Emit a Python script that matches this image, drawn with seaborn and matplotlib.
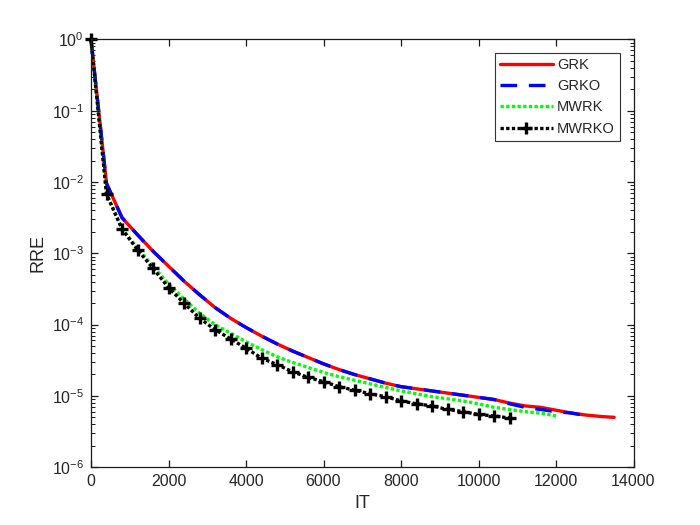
import numpy as np
import pandas as pd
import matplotlib
matplotlib.use("Agg")
import matplotlib.pyplot as plt
from matplotlib.ticker import LogLocator, NullFormatter
import seaborn as sns

grk_it = np.arange(0, 13201, 400).tolist() + [13500]
grk_log = [0, -2.02, -2.50, -2.74, -2.97, -3.18, -3.39, -3.58, -3.76, -3.91,
           -4.04, -4.16, -4.27, -4.37, -4.46, -4.55, -4.63, -4.70, -4.76, -4.82,
           -4.87, -4.90, -4.93, -4.96, -4.99, -5.02, -5.05, -5.10, -5.14, -5.16,
           -5.20, -5.24, -5.27, -5.29, -5.30]

grko_it = np.arange(0, 12801, 400).tolist()
grko_log = [0, -2.02, -2.50, -2.74, -2.97, -3.18, -3.39, -3.58, -3.76, -3.91,
            -4.04, -4.16, -4.27, -4.37, -4.46, -4.55, -4.63, -4.70, -4.76, -4.82,
            -4.87, -4.90, -4.93, -4.96, -4.99, -5.02, -5.05, -5.11, -5.16, -5.19,
            -5.22, -5.24, -5.28]

mwrk_it = np.arange(0, 12001, 400).tolist()
mwrk_log = [0, -2.17, -2.65, -2.93, -3.18, -3.43, -3.64, -3.84, -4.00, -4.12,
            -4.24, -4.35, -4.45, -4.53, -4.60, -4.67, -4.73, -4.78, -4.83, -4.88,
            -4.93, -4.97, -5.01, -5.04, -5.07, -5.11, -5.16, -5.19, -5.22, -5.24,
            -5.28]

mwrko_it = np.arange(0, 10801, 400).tolist()
mwrko_log = [0, -2.17, -2.66, -2.95, -3.21, -3.48, -3.70, -3.91, -4.07, -4.20,
             -4.33, -4.47, -4.56, -4.66, -4.74, -4.80, -4.87, -4.92, -4.97, -5.01,
             -5.07, -5.11, -5.14, -5.19, -5.22, -5.26, -5.28, -5.31]

sns.set_style("white")
plt.rcParams['font.family'] = ['Liberation Sans', 'DejaVu Sans']
plt.rcParams['mathtext.fontset'] = 'custom'
plt.rcParams['mathtext.rm'] = 'Liberation Sans'

fig, ax = plt.subplots(figsize=(7, 5.25), dpi=100)
fig.subplots_adjust(left=0.13, right=0.905, bottom=0.11, top=0.925)

series = [
    ("GRK", grk_it, grk_log, (1, 0, 0), '-'),
    ("GRKO", grko_it, grko_log, (0, 0, 1), (0, (5, 3.5))),
    ("MWRK", mwrk_it, mwrk_log, (0, 1, 0), (0, (1, 0.7))),
    ("MWRKO", mwrko_it, mwrko_log, (0, 0, 0), (0, (1, 0.7))),
]

for name, it, lg, col, ls in series:
    df = pd.DataFrame({"IT": it, "RRE": 10 ** np.array(lg)})
    sns.lineplot(data=df, x="IT", y="RRE", ax=ax, label=name, linewidth=2.4,
                 color=col, linestyle=ls)
    line = ax.lines[-1]
    line.set_clip_on(False)
    if name == "MWRKO":
        line.set_marker('+')
        line.set_markersize(9)
        line.set_markeredgewidth(2.4)
        line.set_markeredgecolor('black')

ax.set_yscale('log')
ax.set_xlim(0, 14000)
ax.set_ylim(1e-6, 1)
ax.set_xticks(np.arange(0, 14001, 2000))
ax.set_yticks([10.0 ** k for k in range(-6, 1)])
ax.set_yticklabels([r'$10^{%d}$' % k for k in range(-6, 1)])
ax.yaxis.set_minor_locator(LogLocator(base=10, subs=np.arange(2, 10), numticks=20))
ax.yaxis.set_minor_formatter(NullFormatter())
ax.tick_params(axis='both', which='both', direction='in', bottom=True, top=True,
               left=True, right=True, color='#1a1a1a')
ax.tick_params(axis='both', which='major', length=5, width=0.9,
               labelsize=11.5, labelcolor='#262626', pad=5)
ax.tick_params(axis='both', which='minor', length=3, width=0.7)
ax.set_xlabel("IT", fontsize=13, color='#262626')
ax.set_ylabel("RRE", fontsize=13, color='#262626')
for sp in ax.spines.values():
    sp.set_color('#1a1a1a')
    sp.set_linewidth(0.9)

leg = ax.legend(loc='upper right', bbox_to_anchor=(0.975, 0.969), borderaxespad=0,
                fontsize=10.5, handlelength=3.6, frameon=True, fancybox=False,
                borderpad=0.35, labelspacing=0.5, handletextpad=0.3)
leg.get_frame().set_edgecolor('black')
leg.get_frame().set_linewidth(0.8)
for h in leg.legend_handles:
    if h.get_label() == "MWRKO":
        xd = h.get_xdata()
        h.set_xdata([xd[0], np.mean(xd), xd[-1]])
        h.set_ydata([h.get_ydata()[0]] * 3)
        h.set_marker('+')
        h.set_markersize(9)
        h.set_markeredgewidth(2.4)
        h.set_markeredgecolor('black')
        h.set_markevery([1])

fig.savefig("out.png", dpi=100)
